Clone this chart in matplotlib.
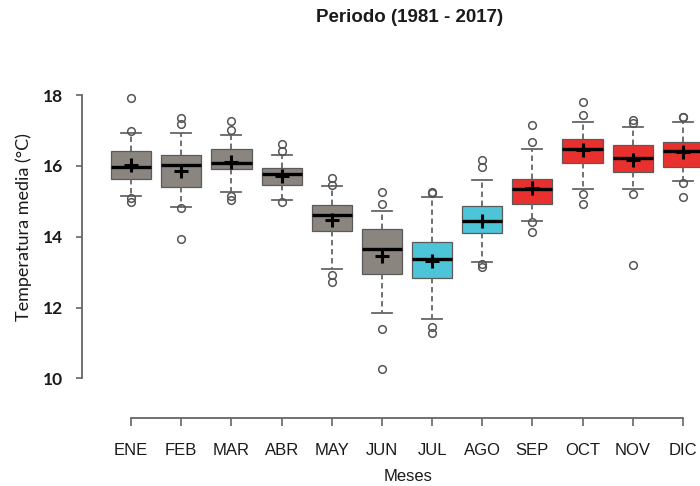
import matplotlib
matplotlib.use("Agg")
import matplotlib.pyplot as plt

months = ["ENE", "FEB", "MAR", "ABR", "MAY", "JUN", "JUL", "AGO", "SEP", "OCT", "NOV", "DIC"]
whislo = [15.15, 14.83, 15.27, 15.05, 13.10, 11.85, 11.67, 13.29, 14.44, 15.34, 15.34, 15.58]
q1     = [15.62, 15.41, 15.90, 15.46, 14.17, 12.96, 12.84, 14.11, 14.92, 16.09, 15.83, 15.96]
med    = [15.96, 16.02, 16.07, 15.76, 14.61, 13.64, 13.37, 14.44, 15.34, 16.49, 16.23, 16.43]
q3     = [16.42, 16.31, 16.47, 15.95, 14.89, 14.23, 13.84, 14.86, 15.63, 16.75, 16.59, 16.68]
whishi = [16.92, 16.92, 16.87, 16.31, 15.44, 14.73, 15.13, 15.60, 16.47, 17.23, 17.11, 17.25]
means  = [16.02, 15.85, 16.12, 15.71, 14.47, 13.45, 13.31, 14.45, 15.38, 16.45, 16.16, 16.40]
fliers = [
    [17.92, 16.99, 15.08, 14.97],
    [17.34, 17.18, 14.80, 13.93],
    [17.27, 17.01, 15.15, 15.03],
    [16.62, 16.43, 14.99],
    [15.67, 15.46, 12.92, 12.73],
    [15.25, 14.92, 11.38, 10.25],
    [15.25, 15.22, 11.44, 11.29],
    [16.16, 15.97, 13.23, 13.15],
    [17.15, 16.66, 14.42, 14.14],
    [17.79, 17.44, 15.20, 14.91],
    [17.29, 17.20, 15.20, 13.20],
    [17.39, 17.37, 15.51, 15.13],
]
season = ["g", "g", "g", "g", "g", "g", "c", "c", "r", "r", "r", "r"]
palette = {"g": "#8b8580", "c": "#4ec4d8", "r": "#e8312f"}

fig = plt.figure(figsize=(7.0, 4.86), dpi=100)
ax = fig.add_axes([82/700, 68/486, 650/700, (418-83.7)/486])

stats = []
for i in range(len(months)):
    stats.append(dict(label=months[i], whislo=whislo[i], q1=q1[i], med=med[i],
                      q3=q3[i], whishi=whishi[i], mean=means[i], fliers=fliers[i]))

pos = list(range(1, len(months) + 1))
res = ax.bxp(stats, positions=pos, widths=0.8, patch_artist=True, showmeans=True,
             boxprops=dict(edgecolor="#5a5a5a", linewidth=0.9),
             medianprops=dict(color="black", linewidth=2.4, solid_capstyle="butt"),
             whiskerprops=dict(color="#666666", linewidth=1.3, linestyle=(0, (3, 2))),
             capprops=dict(color="#666666", linewidth=1.3),
             flierprops=dict(marker="o", markerfacecolor="none", markeredgecolor="#555555",
                             markersize=5.5, markeredgewidth=1.1),
             meanprops=dict(marker="+", markeredgecolor="black", markersize=10,
                            markeredgewidth=2.2))
for patch, s in zip(res["boxes"], season):
    patch.set_facecolor(palette[s])

ax.set_xlim(0.02, 12.98)
ax.set_ylim(8.88, 18.32)
for sp in ["top", "right"]:
    ax.spines[sp].set_visible(False)
for sp in ["left", "bottom"]:
    ax.spines[sp].set_color("#666666")
    ax.spines[sp].set_linewidth(1.3)
ax.spines["left"].set_bounds(10, 18)
ax.spines["bottom"].set_bounds(1, 12)

ax.set_yticks([10, 12, 14, 16, 18])
ax.set_yticklabels(["10", "12", "14", "16", "18"], fontfamily="Lato", fontweight="bold", fontsize=12.5)
ax.set_xticks(pos)
ax.set_xticklabels(months, fontfamily="Liberation Sans", fontsize=12)
ax.tick_params(axis="y", length=4.5, width=1.2, color="#666666", pad=9, labelcolor="#1a1a1a")
ax.tick_params(axis="x", length=6, width=1.2, color="#666666", pad=12, labelcolor="#1a1a1a")

fig.text(410/700, 1 - 18/486, "Periodo (1981 - 2017)", ha="center", va="center",
         fontfamily="Liberation Sans", fontweight="bold", fontsize=13.5, color="#1a1a1a")
fig.text(408/700, 1 - 476/486, "Meses", ha="center", va="center",
         fontfamily="Liberation Sans", fontsize=12, color="#1a1a1a")
fig.text(24/700, 1 - 227/486, "Temperatura media (°C)", ha="center", va="center",
         rotation=90, fontfamily="Lato", fontsize=13, color="#1a1a1a")

fig.savefig("out.png", dpi=100)
